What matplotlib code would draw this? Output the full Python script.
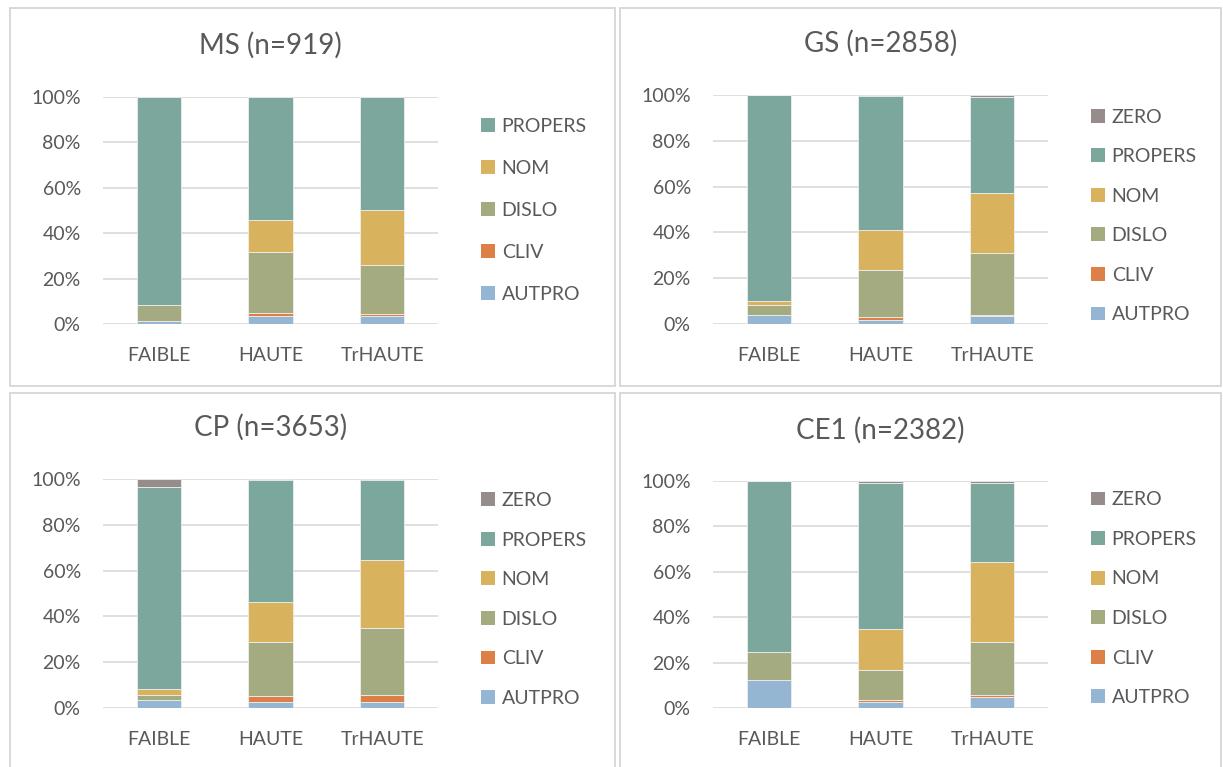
import matplotlib
matplotlib.use("Agg")
import matplotlib.pyplot as plt
import matplotlib.patches as mpatches
from matplotlib.ticker import PercentFormatter

plt.rcParams['font.family'] = ['Lato', 'DejaVu Sans']

# categories on the x axis
levels = ['FAIBLE', 'HAUTE', 'TrHAUTE']

# stacked from bottom to top
series = ['AUTPRO', 'CLIV', 'DISLO', 'NOM', 'PROPERS', 'ZERO']
colors = {
    'AUTPRO': '#94b6d2',
    'CLIV': '#dd8047',
    'DISLO': '#a5ab81',
    'NOM': '#d8b25c',
    'PROPERS': '#7ba79d',
    'ZERO': '#968c8c',
}

# percentages per level
ms = {
    'AUTPRO': [1.3, 3.5, 3.8],
    'CLIV': [0.0, 1.6, 0.9],
    'DISLO': [7.0, 26.5, 21.2],
    'NOM': [0.0, 14.1, 24.5],
    'PROPERS': [91.7, 54.3, 49.6],
}
gs = {
    'AUTPRO': [4.1, 1.9, 3.5],
    'CLIV': [0.0, 1.1, 0.6],
    'DISLO': [4.5, 20.5, 27.1],
    'NOM': [1.4, 17.7, 26.0],
    'PROPERS': [90.0, 58.4, 41.9],
    'ZERO': [0.0, 0.4, 0.9],
}
cp = {
    'AUTPRO': [3.5, 2.6, 2.9],
    'CLIV': [0.0, 2.6, 2.9],
    'DISLO': [2.5, 23.5, 29.0],
    'NOM': [2.6, 17.7, 29.8],
    'PROPERS': [87.6, 53.2, 34.7],
    'ZERO': [3.8, 0.4, 0.7],
}
ce1 = {
    'AUTPRO': [12.3, 2.8, 5.0],
    'CLIV': [0.0, 1.0, 1.0],
    'DISLO': [12.3, 12.9, 23.0],
    'NOM': [0.0, 18.1, 35.2],
    'PROPERS': [75.4, 64.2, 34.8],
    'ZERO': [0.0, 1.0, 1.0],
}

W, H = 1223, 767
fig = plt.figure(figsize=(W / 100, H / 100), dpi=100)

txt = '#595959'
grid = '#d9d9d9'

# (title, data, axes box in pixels: left, top(100%), right, bottom(0%), panel box, legend y)
panels = [
    ('MS (n=919)', ms, (103, 96.7, 438, 324.3), (10, 8, 615, 386), 0.5),
    ('GS (n=2858)', gs, (713, 94.7, 1048, 324.3), (620, 8, 1221, 386), 0.472),
    ('CP (n=3653)', cp, (103, 478.7, 438, 708.3), (10, 393, 615, 790), 0.474),
    ('CE1 (n=2382)', ce1, (713, 481, 1048, 708.3), (620, 393, 1221, 790), 0.482),
]

for title, data, (l, t, r, b), (pl, pt, pr, pb), leg_y in panels:
    # panel frame like the excel chart area
    fig.patches.append(mpatches.Rectangle((pl / W, 1 - pb / H), (pr - pl) / W, (pb - pt) / H,
                                          transform=fig.transFigure, fill=False,
                                          edgecolor='#d6d6d6', linewidth=1.3))

    ax = fig.add_axes([l / W, 1 - b / H, (r - l) / W, (b - t) / H])
    x = range(len(levels))
    bottom = [0.0] * len(levels)
    handles = []
    for s in series:
        if s not in data:
            continue
        vals = data[s]
        bars = ax.bar(x, vals, 0.395, bottom=bottom, color=colors[s],
                      edgecolor='#eeeeee', linewidth=0.6, zorder=3, label=s)
        handles.append(bars)
        bottom = [a + v for a, v in zip(bottom, vals)]

    ax.set_xlim(-0.5, 2.5)
    ax.set_ylim(0, 100)
    ax.set_yticks(range(0, 101, 20))
    ax.yaxis.set_major_formatter(PercentFormatter(decimals=0))
    ax.set_xticks(list(x))
    ax.set_xticklabels(levels)
    ax.yaxis.grid(True, color=grid, linewidth=1.2, zorder=0)
    ax.set_axisbelow(True)
    for sp in ax.spines.values():
        sp.set_visible(False)
    ax.tick_params(axis='both', length=0, labelsize=14, labelcolor=txt)
    ax.tick_params(axis='y', pad=16)
    ax.tick_params(axis='x', pad=16)

    fig.text((l + r) / 2 / W, 1 - (t - 51) / H, title, ha='center', va='center',
             fontsize=20, color=txt)

    leg = ax.legend(handles[::-1], [h.get_label() for h in handles[::-1]],
                    loc='center left', bbox_to_anchor=(1.128, leg_y), frameon=False,
                    fontsize=14, labelcolor=txt, handlelength=0.72, handleheight=0.72,
                    handletextpad=0.35, borderpad=0, borderaxespad=0,
                    labelspacing=1.29 if len(handles) == 5 else 1.16)
    for h in leg.legend_handles:
        h.set_edgecolor('none')

fig.savefig('out.png', dpi=100)
